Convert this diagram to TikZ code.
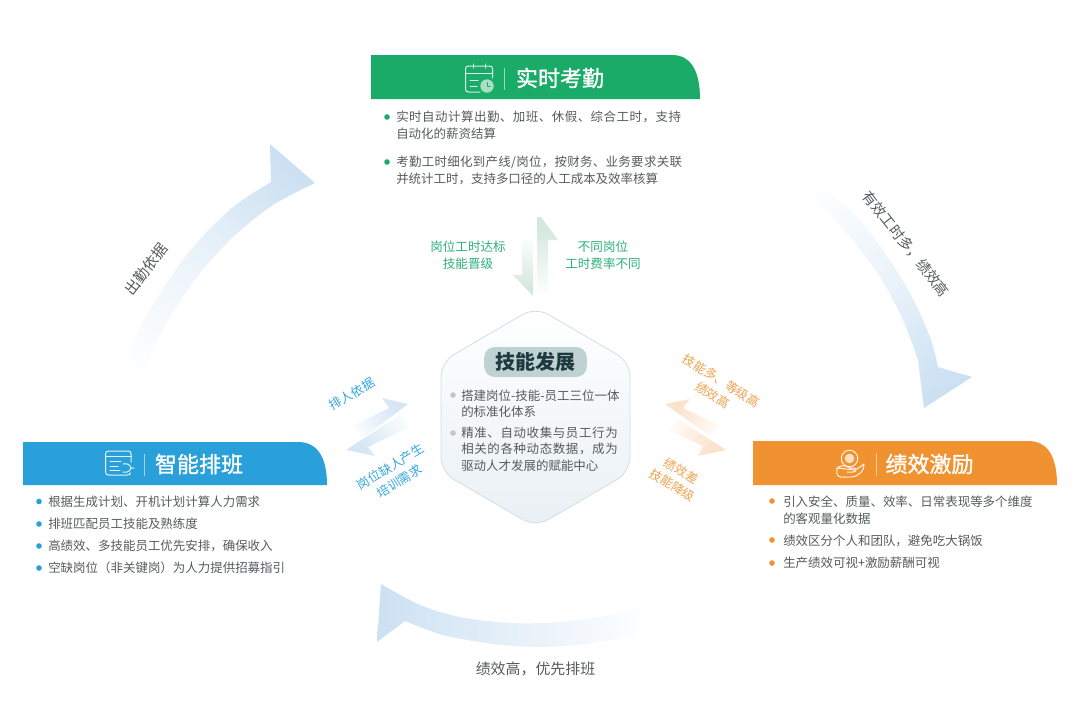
\documentclass[tikz,border=0pt]{standalone}
\usepackage{fontspec}
\setmainfont{Noto Sans CJK SC}
\newfontfamily\medfont[FakeBold=1.2]{Noto Sans CJK SC}
\definecolor{hgreen}{HTML}{1BAB69}
\definecolor{hblue}{HTML}{2AA0DA}
\definecolor{horange}{HTML}{F0922F}
\definecolor{bodygrey}{HTML}{555B5B}
\definecolor{flowblue}{HTML}{CBE0F2}
\definecolor{pairblue}{HTML}{D6E6F5}
\definecolor{pairorange}{HTML}{FBE2CB}
\definecolor{pairgreen}{HTML}{D5E8DF}
\definecolor{lblgreen}{HTML}{2BAF78}
\definecolor{lblblue}{HTML}{35A6DD}
\definecolor{lblorange}{HTML}{F0A04E}
\definecolor{hexline}{HTML}{D3DEE2}
\definecolor{hexfill}{HTML}{E9F0F5}
\definecolor{pill}{HTML}{BFD2D2}
\definecolor{pilltxt}{HTML}{1E3A40}
\definecolor{iconlight}{HTML}{D9F0E2}
\pgfdeclareverticalshading{fadeflow}{100bp}{color(0bp)=(white);color(20bp)=(white);color(34bp)=(flowblue!18);color(52bp)=(flowblue!42);color(68bp)=(flowblue!78);color(78bp)=(flowblue);color(100bp)=(flowblue)}
\pgfdeclareverticalshading{fadeflowh}{100bp}{color(0bp)=(white);color(27bp)=(white);color(33bp)=(flowblue!12);color(53bp)=(flowblue!52);color(67bp)=(flowblue!80);color(75bp)=(flowblue);color(100bp)=(flowblue)}
\pgfdeclareverticalshading{fadeblue}{100bp}{color(0bp)=(white);color(16bp)=(white);color(68bp)=(pairblue);color(100bp)=(pairblue)}
\pgfdeclareverticalshading{fadeorange}{100bp}{color(0bp)=(white);color(16bp)=(white);color(68bp)=(pairorange);color(100bp)=(pairorange)}
\pgfdeclareverticalshading{fadegreen}{100bp}{color(0bp)=(white);color(25bp)=(white);color(68bp)=(pairgreen);color(100bp)=(pairgreen)}
\tikzset{
  x=0.75pt,y=-0.75pt,
  headbar/.style={line width=0pt},
  titletxt/.style={text=white,font=\fontsize{16.5}{20}\medfont,inner sep=0pt},
  bodytxt/.style={text=bodygrey,font=\fontsize{9.35}{12.9}\selectfont,align=left,anchor=west,inner sep=0pt},
  centertxt/.style={text=bodygrey,font=\fontsize{9.35}{12.4}\selectfont,align=left,anchor=west,inner sep=0pt},
  flowtxt/.style={text=bodygrey,font=\fontsize{11.2}{14}\selectfont,inner sep=0pt},
  pairtxt/.style={font=\fontsize{9.4}{12.8}\selectfont,align=center,inner sep=0pt},
  dotmark/.style={circle,inner sep=0pt,minimum size=4.2pt},
  iconline/.style={draw=#1,line width=0.75pt,line cap=round,line join=round},
  divline/.style={draw=white,opacity=0.55,line width=0.5pt},
}
\newcommand{\wideA}[1]{{\addfontfeature{LetterSpace=4}#1}}
\newcommand{\wideB}[1]{{\addfontfeature{LetterSpace=2.4}#1}}
\begin{document}
\begin{tikzpicture}
\useasboundingbox (0,0) rectangle (1080,725);

% ---- big flow arrows
\shade[shading=fadeflow,shading angle=-38]
  plot[smooth] coordinates {(120,398) (133,343) (160,293) (193,247) (233,207) (271,182)}
  -- (270,144) -- (315,183)
  -- plot[smooth] coordinates {(315,183) (273,205) (233,237) (197,277) (170,317) (150,357) (143,398)} -- cycle;
\shade[shading=fadeflow,shading angle=-140]
  plot[smooth] coordinates {(783,172) (820,187) (853,213) (883,250) (910,293) (930,337) (938,367)}
  -- (972,377) -- (924,408)
  -- plot[smooth] coordinates {(918,360) (903,320) (880,277) (850,237) (817,203) (786,186)} -- cycle;
\shade[shading=fadeflowh,shading angle=90]
  plot[smooth] coordinates {(381,584) (420,605) (460,617) (510,623) (560,622) (610,615) (662,603)}
  -- plot[smooth] coordinates {(660,618) (643,633) (593,643) (543,647) (493,644) (443,635) (405,621)}
  -- (377,642) -- cycle;

% ---- centre pair arrows
\shade[shading=fadegreen]
  (541,217) -- (558,240) -- (548,240) -- (548,297) -- (537,297) -- (537,217) -- cycle;
\shade[shading=fadegreen,shading angle=180]
  (533,296) -- (513,275) -- (522,275) -- (522,235) -- (533,235) -- cycle;
\shade[shading=fadeblue,shading angle=-60]
  (408,404) -- (382,398) -- (389,408) -- (353,426) -- (363,438) -- cycle;
\shade[shading=fadeblue,shading angle=120]
  (346,450) -- (375,456) -- (368,447) -- (410,427) -- (400,415) -- cycle;
\shade[shading=fadeorange,shading angle=60]
  (665,404) -- (690,399) -- (683,408) -- (720,426) -- (710,436) -- cycle;
\shade[shading=fadeorange,shading angle=-120]
  (726,450) -- (698,456) -- (703,446) -- (668,430) -- (678,419) -- cycle;

% ---- hexagon
\shade[top color=white,bottom color=hexfill,draw=hexline,line width=0.6pt,rounded corners=11pt]
  (535.5,307) -- (630,362) -- (630,472) -- (535.5,527) -- (441,472) -- (441,362) -- cycle;
\node[fill=pill,rounded corners=8pt,minimum width=77pt,minimum height=22.5pt,inner sep=0pt] (skillpill) at (535.5,362) {};
\node[text=pilltxt,font=\fontsize{15}{18}\selectfont\bfseries,inner sep=0pt] (skilltitle) at (535.5,362) {技能发展};
\node[dotmark,fill=hexline!90!black] (cdot1) at (453,395) {};
\node[centertxt] (ctext1) at (461,403.5) {搭建岗位-技能-员工三位一体\\的标准化体系};
\node[dotmark,fill=hexline!90!black] (cdot2) at (453,433) {};
\node[centertxt] (ctext2) at (461,449) {{\addfontfeature{LetterSpace=5}精准、自动收集与员工行为}\\{\addfontfeature{LetterSpace=5}相关的各种动态数据，成为}\\驱动人才发展的赋能中心};

% ---- green header
\fill[hgreen,headbar] (371,99) -- (371,55) -- (672,55) .. controls (689,55) and (700,68) .. (700,99) -- cycle;
\node[titletxt] (gtitle) at (560,78) {实时考勤};
\draw[divline] (504,68) -- (504,90);
\draw[iconline=iconlight] (480,92) -- (469,92) .. controls (466,92) and (465.5,91) .. (465.5,89) -- (465.5,69) .. controls (465.5,67) and (466,66) .. (469,66) -- (489,66) .. controls (492,66) and (492.5,67) .. (492.5,69) -- (492.5,78);
\draw[iconline=iconlight] (465.5,73) -- (492.5,73);
\draw[iconline=iconlight] (473,64) -- (473,68) (485,64) -- (485,68);
\draw[iconline=iconlight] (470,80) -- (478,80) (470,86) -- (477,86);
\fill[iconlight!75!hgreen] (487,86) circle (5pt);
\draw[iconline=hgreen] (487,82.5) -- (487,86.5) -- (490,86.5);
\node[dotmark,fill=hgreen] (gdot1) at (387,117) {};
\node[bodytxt] (gtext1) at (396,125.5) {\wideA{实时自动计算出勤、加班、休假、综合工时，支持}\\自动化的薪资结算};
\node[dotmark,fill=hgreen] (gdot2) at (387,162) {};
\node[bodytxt] (gtext2) at (396,170.5) {\wideB{考勤工时细化到产线/岗位，按财务、业务要求关联}\\并统计工时，支持多口径的人工成本及效率核算};

% ---- blue header
\fill[hblue,headbar] (23,485) -- (23,442) -- (298,442) .. controls (316,442) and (327,455) .. (327,485) -- cycle;
\node[titletxt] (btitle) at (199,464) {智能排班};
\draw[divline] (144,454) -- (144,476);
\draw[iconline=white!88!hblue] (131,462) -- (131,454) .. controls (131,452) and (130.5,451) .. (128,451) -- (109,451) .. controls (106.5,451) and (105.5,452) .. (105.5,454) -- (105.5,472) .. controls (105.5,474) and (106.5,475) .. (109,475) -- (127,475) .. controls (129.5,475) and (130.5,474) .. (130.5,473);
\draw[iconline=white!88!hblue] (105.5,456) -- (131,456);
\draw[iconline=white!88!hblue] (110,461) -- (121,461) (110,466) -- (118,466) (110,470) -- (120,470);
\draw[iconline=white!88!hblue] (123,464) .. controls (128,463) and (130,465) .. (131,468) .. controls (130,471) and (128,473) .. (123,472) (131,468) -- (134,468);
\node[dotmark,fill=hblue] (bdot1) at (39,501.5) {};
\node[bodytxt] (btext1) at (48,501.5) {根据生成计划、开机计划计算人力需求};
\node[dotmark,fill=hblue] (bdot2) at (39,524) {};
\node[bodytxt] (btext2) at (48,523.5) {排班匹配员工技能及熟练度};
\node[dotmark,fill=hblue] (bdot3) at (39,546) {};
\node[bodytxt] (btext3) at (48,545.5) {高绩效、多技能员工优先安排，确保收入};
\node[dotmark,fill=hblue] (bdot4) at (39,568) {};
\node[bodytxt] (btext4) at (48,567.5) {空缺岗位（非关键岗）为人力提供招募指引};

% ---- orange header
\fill[horange,headbar] (753,485) -- (753,441) -- (1028,441) .. controls (1046,441) and (1057,454) .. (1057,485) -- cycle;
\node[titletxt] (otitle) at (929.5,464) {绩效激励};
\draw[divline] (876,453) -- (876,476);
\draw[iconline=white!88!horange] (849.5,458.5) circle (6.2pt);
\fill[white!70!horange] (849.5,458.5) circle (3.6pt);
\draw[iconline=white!88!horange] (837,468) .. controls (841,465) and (845,465) .. (850,468) -- (855,468) .. controls (857,469) and (856,472) .. (853,472) -- (847,472) (855,470) .. controls (859,468) and (861,466) .. (864,464) .. controls (865,470) and (858,477) .. (851,477) -- (841,477) .. controls (838,477) and (836,475) .. (837,468) -- cycle;
\node[dotmark,fill=horange] (odot1) at (772,501) {};
\node[bodytxt] (otext1) at (783,510) {引入安全、质量、效率、日常表现等多个维度\\的客观量化数据};
\node[dotmark,fill=horange] (odot2) at (772,540) {};
\node[bodytxt] (otext2) at (783,540.5) {绩效区分个人和团队，避免吃大锅饭};
\node[dotmark,fill=horange] (odot3) at (772,563) {};
\node[bodytxt] (otext3) at (783,562.5) {生产绩效可视+激励薪酬可视};

% ---- pair labels
\node[pairtxt,text=lblgreen] (lg1) at (468,255) {岗位工时达标\\技能晋级};
\node[pairtxt,text=lblgreen] (lg2) at (603,255) {不同岗位\\工时费率不同};
\node[pairtxt,text=lblblue,rotate=31] (lb1) at (352,394) {排人依据};
\node[pairtxt,text=lblblue,rotate=31] (lb2) at (395,474) {岗位缺人产生\\培训需求};
\node[pairtxt,text=lblorange,rotate=-32] (lo1) at (717,388) {技能多、等级高\\绩效高};
\node[pairtxt,text=lblorange,rotate=-31] (lo2) at (677,478) {绩效差\\技能降级};

% ---- flow labels
\node[flowtxt,rotate=52] (f1) at (146,269) {出勤依据};
\node[flowtxt,font=\fontsize{10.8}{14}\selectfont,rotate=-52] (f2) at (906,244) {有效工时多，绩效高};
\node[flowtxt] (f3) at (535.5,669) {绩效高，优先排班};
\end{tikzpicture}
\end{document}
